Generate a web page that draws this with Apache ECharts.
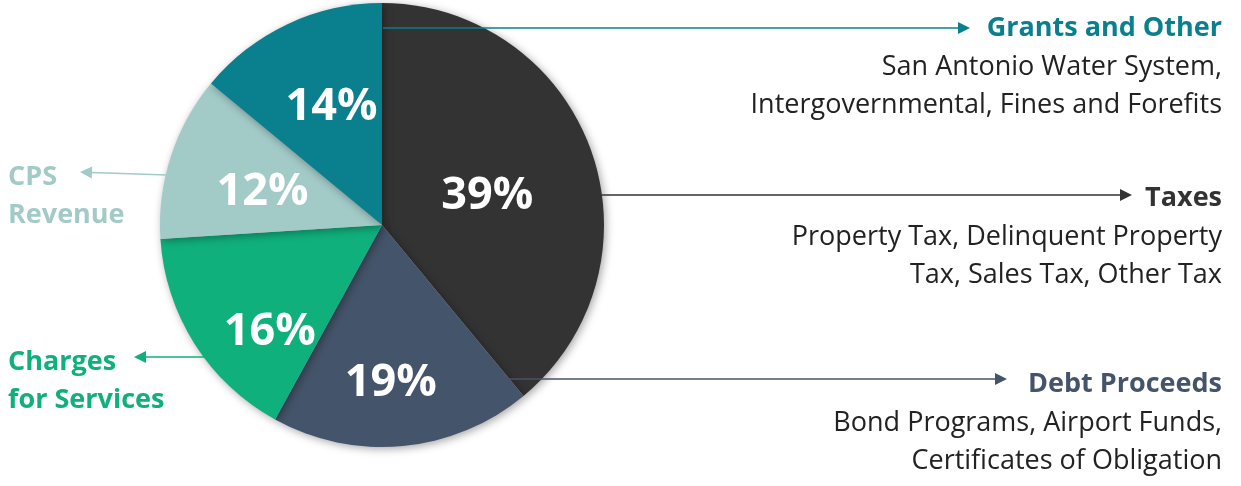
<!DOCTYPE html>
<html>
<head>
<meta charset="utf-8">
<script src="https://cdn.jsdelivr.net/npm/echarts@6/dist/echarts.min.js"></script>
<style>
  html, body { margin: 0; padding: 0; background: #fff; }
  #chart { width: 1241px; height: 486px; }
</style>
</head>
<body>
<div id="chart"></div>
<script>
// 数据：从上方顺时针
var categories = ["Taxes", "Debt Proceeds", "Charges for Services", "CPS Revenue", "Grants and Other"];
var shares = [39, 19, 16, 12, 14];
var colors = ["#333333", "#44546a", "#10b07d", "#a2cac7", "#0a7f8e"];
// 标签说明文字
var titles = {
    "Taxes": "Taxes",
    "Debt Proceeds": "Debt Proceeds",
    "Charges for Services": "Charges\nfor Services",
    "CPS Revenue": "CPS\nRevenue",
    "Grants and Other": "Grants and Other"
};
var notes = {
    "Taxes": "Property Tax, Delinquent Property\nTax, Sales Tax, Other Tax",
    "Debt Proceeds": "Bond Programs, Airport Funds,\nCertificates of Obligation",
    "Charges for Services": "",
    "CPS Revenue": "",
    "Grants and Other": "San Antonio Water System,\nIntergovernmental, Fines and Forefits"
};

var FONT = "'Open Sans', 'Noto Sans', sans-serif";
var cx = 382, cy = 225, R = 222;

// 百分比标签的微调
var labelShift = [[-2, 10], [-2, 45], [-16, 46], [-11, 2], [-2, -15]];

var chart = echarts.init(document.getElementById('chart'));

function arrow(x1, y1, x2, y2, color){
    // 画带箭头的线
    var dx = x2 - x1, dy = y2 - y1;
    var len = Math.sqrt(dx * dx + dy * dy);
    var ux = dx / len, uy = dy / len;
    var hl = 12, hw = 6;
    var bx = x2 - ux * hl, by = y2 - uy * hl;
    return [
        {type: 'line', silent: true, z: 10,
         shape: {x1: x1, y1: y1, x2: bx, y2: by},
         style: {stroke: color, lineWidth: 1.5}},
        {type: 'polygon', silent: true, z: 10,
         shape: {points: [[x2, y2], [bx - uy * hw, by + ux * hw], [bx + uy * hw, by - ux * hw]]},
         style: {fill: color}}
    ];
}

function rightBlock(name, color, x, y){
    var items = [];
    items.push({type: 'text', silent: true, z: 10, x: x, y: y,
        style: {text: titles[name], fill: color, font: 'bold 27px ' + FONT,
                textAlign: 'right', textVerticalAlign: 'middle'}});
    if (notes[name])
        items.push({type: 'text', silent: true, z: 10, x: x, y: y + 20,
            style: {text: notes[name], fill: '#222', font: '27px ' + FONT,
                    lineHeight: 38, textAlign: 'right', textVerticalAlign: 'top'}});
    return items;
}

function leftBlock(name, color, x, y){
    return [{type: 'text', silent: true, z: 10, x: x, y: y,
        style: {text: titles[name], fill: color, font: 'bold 27px ' + FONT,
                lineHeight: 38, textAlign: 'left', textVerticalAlign: 'top'}}];
}

var graphics = []
    .concat(arrow(383, 28, 970, 28, colors[4]))
    .concat(rightBlock("Grants and Other", colors[4], 1222, 28))
    .concat(arrow(598, 195, 1132, 195, colors[0]))
    .concat(rightBlock("Taxes", colors[0], 1222, 198))
    .concat(arrow(508, 379, 1007, 379, colors[1]))
    .concat(rightBlock("Debt Proceeds", colors[1], 1222, 384))
    .concat(arrow(167, 175, 80, 172, colors[3]))
    .concat(leftBlock("CPS Revenue", colors[3], 8, 158))
    .concat(arrow(242, 357, 134, 357, colors[2]))
    .concat(leftBlock("Charges for Services", colors[2], 8, 343));

var pieData = categories.map(function(c, i){
    return {
        name: c,
        value: shares[i],
        itemStyle: {color: colors[i]},
        label: {offset: labelShift[i]}
    };
});

chart.setOption({
    animation: false,
    backgroundColor: '#ffffff',
    series: [{
        type: 'pie',
        center: [cx, cy],
        radius: [0, R],
        startAngle: 90,
        clockwise: true,
        data: pieData,
        itemStyle: {
            shadowBlur: 8,
            shadowColor: 'rgba(0,0,0,0.35)',
            shadowOffsetX: 2,
            shadowOffsetY: 2
        },
        emphasis: {disabled: true},
        label: {
            position: 'inside',
            formatter: '{c}%',
            color: '#ffffff',
            fontFamily: FONT,
            fontWeight: 'bold',
            fontSize: 45
        },
        labelLine: {show: false}
    }],
    graphic: graphics
});
</script>
</body>
</html>
